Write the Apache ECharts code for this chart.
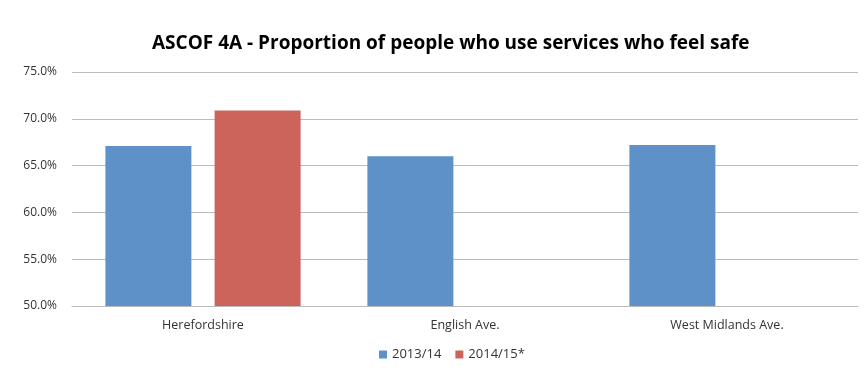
<!DOCTYPE html>
<html lang="en">
  <head>
    <meta charset="UTF-8">
    <title>ASCOF 4A</title>
    <style>
      html, body { margin: 0; padding: 0; background: #ffffff; }
      .chart { width: 866px; height: 382px; }
    </style>
  </head>
  <body>
    <div id="chart" class="chart"></div>
    <script src="https://cdn.jsdelivr.net/npm/echarts@6/dist/echarts.min.js"></script>
    <script type="text/javascript">
      // data
      var categories = ['Herefordshire', 'English Ave.', 'West Midlands Ave.'];
      var seriesNames = ['2013/14', '2014/15*'];
      var values1314 = [67.1, 66.0, 67.2];
      var values1415 = [70.9, null, null];

      var myChart = echarts.init(document.getElementById('chart'));

      var option = {
        backgroundColor: '#ffffff',
        animation: false,
        title: {
          text: 'ASCOF 4A - Proportion of people who use services who feel safe',
          left: 147,
          top: 29,
          textStyle: {
            fontFamily: 'Open Sans',
            fontWeight: 'bold',
            fontSize: 19,
            color: '#000000'
          }
        },
        legend: {
          bottom: 16,
          left: 374,
          itemWidth: 8,
          itemHeight: 8,
          itemGap: 14,
          icon: 'rect',
          textStyle: {
            fontFamily: 'Open Sans',
            fontSize: 13,
            color: '#333333'
          },
          data: seriesNames
        },
        grid: {
          left: 72,
          right: 8,
          top: 72,
          bottom: 76
        },
        xAxis: {
          type: 'category',
          data: categories,
          axisLine: { show: true, lineStyle: { color: '#bbbbbb', width: 1 } },
          axisTick: { show: false },
          axisLabel: {
            color: '#333333',
            fontFamily: 'Open Sans',
            fontSize: 12.5,
            margin: 13
          }
        },
        yAxis: {
          type: 'value',
          min: 50,
          max: 75,
          interval: 5,
          axisLine: { show: false },
          axisTick: { show: false },
          splitLine: { lineStyle: { color: '#bbbbbb', width: 1 } },
          axisLabel: {
            color: '#333333',
            fontFamily: 'Open Sans',
            fontSize: 12,
            margin: 15,
            formatter: function(v) {
              return v.toFixed(1) + '%';
            }
          }
        },
        series: [{
            name: seriesNames[0],
            type: 'bar',
            barWidth: 86,
            barGap: '27%',
            itemStyle: { color: '#5e91c8' },
            data: values1314
          },
          {
            name: seriesNames[1],
            type: 'bar',
            barWidth: 86,
            barGap: '27%',
            itemStyle: { color: '#cc645b' },
            data: values1415
          }
        ]
      };

      myChart.setOption(option);
    </script>
  </body>
</html>
